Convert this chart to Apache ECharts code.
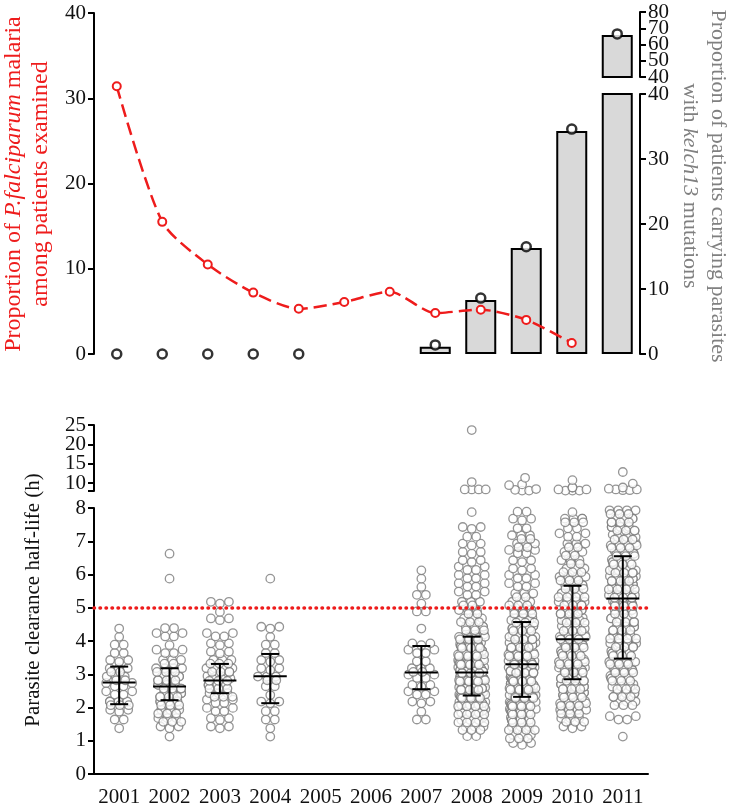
<!DOCTYPE html>
<html>
<head>
<meta charset="utf-8">
<script src="https://cdn.jsdelivr.net/npm/echarts@6/dist/echarts.min.js"></script>
<style>
  html, body { margin: 0; padding: 0; background: #fff; }
  #main { width: 732px; height: 812px; }
</style>
</head>
<body>
<div id="main"></div>
<script>
// top panel: 12 slots, no axis labels shown
var topYears = ['2000', '2001', '2002', '2003', '2004', '2005', '2006', '2007', '2008', '2009', '2010', '2011'];
var malaria = [31.4, 15.5, 10.5, 7.2, 5.3, 6.1, 7.3, 4.8, 5.2, 4.0, 1.3, null];
var kelchBars = [null, null, null, null, null, null, null, 1.1, 8.3, 16.3, 34.3, 65.8];
var kelchDots = [0, 0, 0, 0, 0, null, null, 1.4, 8.6, 16.5, 34.6, 66.5];

// bottom panel
var years = ['2001', '2002', '2003', '2004', '2005', '2006', '2007', '2008', '2009', '2010', '2011'];
var binSize = 0.25; // counts per 0.25 h bin, 0 .. 8 h
var counts = {
  '2001': [0,0,0,0,0,1,2,3,7,4,4,5,5,3,2,2,1,1,0,0,0,0,0,0,0,0,0,0,0,0,0,0],
  '2002': [0,0,0,0,1,3,6,6,7,8,8,8,7,5,4,1,4,2,0,0,0,0,0,1,0,0,1,0,0,0,0,0],
  '2003': [0,0,0,0,0,3,3,4,4,6,7,9,8,6,3,3,4,0,3,1,3,0,0,0,0,0,0,0,0,0,0,0],
  '2004': [0,0,0,0,1,1,2,2,3,1,2,5,3,3,2,2,1,3,0,0,0,0,0,1,0,0,0,0,0,0,0,0],
  '2007': [0,0,0,0,0,0,2,1,3,4,3,4,5,2,4,3,0,1,0,2,1,2,1,1,1,0,0,0,0,0,0,0],
  '2008': [0,0,0,0,2,6,12,16,20,22,24,22,20,17,15,13,10,7,6,5,5,4,4,4,4,3,3,3,2,3,0,1],
  '2009': [0,0,0,3,6,8,10,14,18,19,19,18,16,15,13,12,12,11,9,7,6,5,4,4,3,3,4,5,5,2,3,2],
  '2010': [0,0,0,0,0,3,6,7,10,11,12,12,11,10,10,10,10,9,9,8,8,8,7,7,6,5,5,5,4,2,7,1],
  '2011': [0,0,0,0,1,0,4,0,6,8,9,10,10,11,10,8,8,8,8,7,10,12,12,12,12,10,10,10,9,8,8,7]
};
// values above the axis break (h)
var upper = {
  '2008': [8.4, 8.4, 8.4, 8.4, 10.3, 23.7],
  '2009': [9.7, 8.5, 8.1, 8.1, 8.3, 9.5, 11.4],
  '2010': [8.9, 8.4, 8.1, 8.1, 8.1, 8.4, 8.9, 10.8],
  '2011': [8.9, 8.4, 8.2, 8.2, 8.4, 8.6, 9.9, 12.9]
};
var q1  = [2.10, 2.22, 2.43, 2.13, null, null, 2.55, 2.36, 2.32, 2.85, 3.47];
var med = [2.75, 2.63, 2.81, 2.94, null, null, 3.05, 3.05, 3.30, 4.05, 5.28];
var q3  = [3.23, 3.18, 3.31, 3.61, null, null, 3.85, 4.13, 4.57, 5.66, 6.55];

// tick labels of the two short, crowded axis pieces
var topUpperTicks = [40, 50, 60, 70, 80];
var lowUpperTicks = [10, 15, 20, 25];

var RED = '#ee1c1c';
var GREY = '#808080';
var FONT = 'Liberation Serif';

// beeswarm layout for binned values (pixel offsets only)
function swarmBins(idx, c) {
  var out = [];
  var binPx = 266 / 32;
  c.forEach(function (n, b) {
    if (!n) return;
    var val = (b + 0.5) * binSize;
    var k = Math.ceil(n / 4);
    var placed = 0;
    for (var r = 0; r < k; r++) {
      var m = Math.round((n - placed) / (k - r));
      placed += m;
      var dy = k > 1 ? ((r + 0.5) / k - 0.5) * (binPx - 1) : 0;
      var s = m > 1 ? Math.min(9, 26 / (m - 1)) : 0;
      // stagger sub-rows so they do not line up in columns
      var shift = k > 1 ? (((r * 0.618 + b * 0.37) % 1) - 0.5) * 8 : 0;
      for (var j = 0; j < m; j++) {
        var dx = (j - (m - 1) / 2) * s + shift;
        if (dx > 14) dx -= 26;
        if (dx < -14) dx += 26;
        var bend = k === 1 ? -dx * dx / 45 : 0;
        out.push({ value: [idx, val], symbolOffset: [dx, dy + bend] });
      }
    }
  });
  return out;
}

function swarmFree(idx, vals, pxPerUnit) {
  var placed = [];
  vals.slice().sort(function (a, b) { return a - b; }).forEach(function (v) {
    var y = v * pxPerUnit, best = 0;
    var cands = [0];
    for (var d = 1; d <= 16; d++) cands.push(d, -d);
    for (var i = 0; i < cands.length; i++) {
      var ok = placed.every(function (p) {
        return Math.sqrt((p.x - cands[i]) * (p.x - cands[i]) + (p.y - y) * (p.y - y)) >= 7;
      });
      if (ok) { best = cands[i]; break; }
    }
    placed.push({ x: best, y: y, v: v });
  });
  return placed.map(function (p) {
    return { value: [idx, p.v], symbolOffset: [p.x, 0] };
  });
}

var lowPts = [], upPts = [];
years.forEach(function (y, i) {
  if (counts[y]) lowPts = lowPts.concat(swarmBins(i, counts[y]));
  if (upper[y]) upPts = upPts.concat(swarmFree(i, upper[y], 66 / 17));
});

var iqr = [];
years.forEach(function (y, i) {
  if (med[i] != null) iqr.push([i, q1[i], med[i], q3[i]]);
});

var label = {
  fontFamily: FONT, fontSize: 21, color: '#111', margin: 8,
  showMinLabel: true, showMaxLabel: true, hideOverlap: false
};
var tick = { show: true, length: 6, lineStyle: { color: '#000', width: 2 } };
function yAx(o) {
  var base = {
    type: 'value',
    position: 'left',
    axisLine: { show: true, lineStyle: { color: '#000', width: 2 } },
    axisTick: tick,
    splitLine: { show: false },
    axisLabel: label
  };
  return Object.assign(base, o);
}
// every other label, so the crowded labels are not dropped
function everyOther(arr, start) {
  return arr.filter(function (v, i) { return i % 2 === start; });
}

var chart = echarts.init(document.getElementById('main'));
chart.setOption({
  animation: false,
  backgroundColor: '#fff',
  grid: [
    { left: 94, right: 92, top: 13, height: 341 },
    { left: 94, right: 92, top: 94, height: 260 },
    { left: 94, right: 92, top: 12, height: 65 },
    { left: 94, right: 84, top: 425, height: 66 },
    { left: 94, right: 84, top: 508, height: 266 }
  ],
  xAxis: [
    { type: 'category', gridIndex: 0, data: topYears, show: false },
    { type: 'category', gridIndex: 1, data: topYears, show: false },
    { type: 'category', gridIndex: 2, data: topYears, show: false },
    { type: 'category', gridIndex: 3, data: years, show: false },
    {
      type: 'category', gridIndex: 4, data: years,
      axisLine: { lineStyle: { color: '#000', width: 2 } },
      axisTick: { alignWithLabel: true, interval: 0, length: 6, lineStyle: { color: '#000', width: 2 } },
      axisLabel: { fontFamily: FONT, fontSize: 21, color: '#111', margin: 13, interval: 0, hideOverlap: false }
    }
  ],
  yAxis: [
    yAx({ gridIndex: 0, min: 0, max: 40, interval: 10 }),
    yAx({ gridIndex: 1, position: 'right', min: 0, max: 40, interval: 10 }),
    yAx({
      gridIndex: 2, position: 'right', min: 40, max: 80,
      axisLabel: Object.assign({ customValues: everyOther(topUpperTicks, 0) }, label),
      axisTick: Object.assign({ customValues: topUpperTicks }, tick)
    }),
    yAx({
      gridIndex: 3, min: 8, max: 25,
      axisLabel: Object.assign({ customValues: everyOther(lowUpperTicks, 0) }, label),
      axisTick: Object.assign({ customValues: [8].concat(lowUpperTicks) }, tick)
    }),
    yAx({ gridIndex: 4, min: 0, max: 8, interval: 1 }),
    yAx({
      gridIndex: 2, position: 'right', min: 40, max: 80,
      axisLine: { show: false }, axisTick: { show: false },
      axisLabel: Object.assign({ customValues: everyOther(topUpperTicks, 1) }, label)
    }),
    yAx({
      gridIndex: 3, position: 'left', min: 8, max: 25,
      axisLine: { show: false }, axisTick: { show: false },
      axisLabel: Object.assign({ customValues: everyOther(lowUpperTicks, 1) }, label)
    })
  ],
  graphic: [
    {
      type: 'text', x: 27, y: 184, rotation: Math.PI / 2,
      style: {
        text: 'Proportion of {i|P.falciparum} malaria\namong patients examined',
        fill: RED, fontFamily: FONT, fontSize: 24, lineHeight: 27,
        align: 'center', verticalAlign: 'middle',
        rich: { i: { fontStyle: 'italic', fill: RED, fontFamily: FONT, fontSize: 24, lineHeight: 27 } }
      }
    },
    {
      type: 'text', x: 704, y: 186, rotation: -Math.PI / 2,
      style: {
        text: 'Proportion of patients carrying parasites\nwith {i|kelch13} mutations',
        fill: GREY, fontFamily: FONT, fontSize: 22, lineHeight: 28,
        align: 'center', verticalAlign: 'middle',
        rich: { i: { fontStyle: 'italic', fill: GREY, fontFamily: FONT, fontSize: 22, lineHeight: 28 } }
      }
    },
    {
      type: 'text', x: 33, y: 600, rotation: Math.PI / 2,
      style: {
        text: 'Parasite clearance half-life (h)',
        fill: '#111', fontFamily: FONT, fontSize: 21,
        align: 'center', verticalAlign: 'middle'
      }
    }
  ],
  series: [
    {
      type: 'bar', xAxisIndex: 1, yAxisIndex: 1, data: kelchBars, barWidth: 31, z: 2,
      itemStyle: { color: '#d9d9d9', borderColor: '#000', borderWidth: 2 }
    },
    {
      type: 'bar', xAxisIndex: 2, yAxisIndex: 2, z: 2, barWidth: 31,
      data: kelchBars.map(function (v) { return v != null && v > 40 ? v : null; }),
      itemStyle: { color: '#d9d9d9', borderColor: '#000', borderWidth: 2 }
    },
    {
      type: 'line', xAxisIndex: 0, yAxisIndex: 0, data: malaria, smooth: 0.25, z: 5,
      symbol: 'circle', symbolSize: 8,
      lineStyle: { color: RED, width: 2.5, type: [13, 6] },
      itemStyle: { color: '#fff', borderColor: RED, borderWidth: 2 }
    },
    {
      type: 'scatter', xAxisIndex: 1, yAxisIndex: 1, z: 6, symbolSize: 9,
      data: kelchDots.map(function (v) { return v != null && v <= 40 ? v : null; }),
      itemStyle: { color: '#fff', borderColor: '#000', borderWidth: 2.5 }
    },
    {
      type: 'scatter', xAxisIndex: 2, yAxisIndex: 2, z: 6, symbolSize: 9,
      data: kelchDots.map(function (v) { return v != null && v > 40 ? v : null; }),
      itemStyle: { color: '#fff', borderColor: '#000', borderWidth: 2.5 }
    },
    {
      type: 'scatter', xAxisIndex: 4, yAxisIndex: 4, large: false, z: 3,
      symbol: 'circle', symbolSize: 8.5, data: lowPts,
      itemStyle: { color: '#fff', borderColor: '#7a7a7a', borderWidth: 1.3 }
    },
    {
      type: 'scatter', xAxisIndex: 3, yAxisIndex: 3, z: 3,
      symbol: 'circle', symbolSize: 8.5, data: upPts,
      itemStyle: { color: '#fff', borderColor: '#7a7a7a', borderWidth: 1.3 }
    },
    {
      type: 'custom', xAxisIndex: 4, yAxisIndex: 4, z: 8, data: iqr,
      renderItem: function (params, api) {
        var x = api.value(0);
        var a = api.coord([x, api.value(1)]);
        var m = api.coord([x, api.value(2)]);
        var b = api.coord([x, api.value(3)]);
        var st = { stroke: '#000', lineWidth: 2 };
        function seg(x1, y1, x2, y2) {
          return { type: 'line', shape: { x1: x1, y1: y1, x2: x2, y2: y2 }, style: st };
        }
        return {
          type: 'group',
          children: [
            seg(a[0], a[1], b[0], b[1]),
            seg(a[0] - 9, a[1], a[0] + 9, a[1]),
            seg(b[0] - 9, b[1], b[0] + 9, b[1]),
            seg(m[0] - 16.5, m[1], m[0] + 16.5, m[1])
          ]
        };
      },
      markLine: {
        silent: true, symbol: ['none', 'none'], label: { show: false },
        lineStyle: { color: RED, width: 3.5, type: [0.5, 5.5], cap: 'round' },
        data: [{ yAxis: 5 }]
      }
    }
  ]
});
</script>
</body>
</html>
